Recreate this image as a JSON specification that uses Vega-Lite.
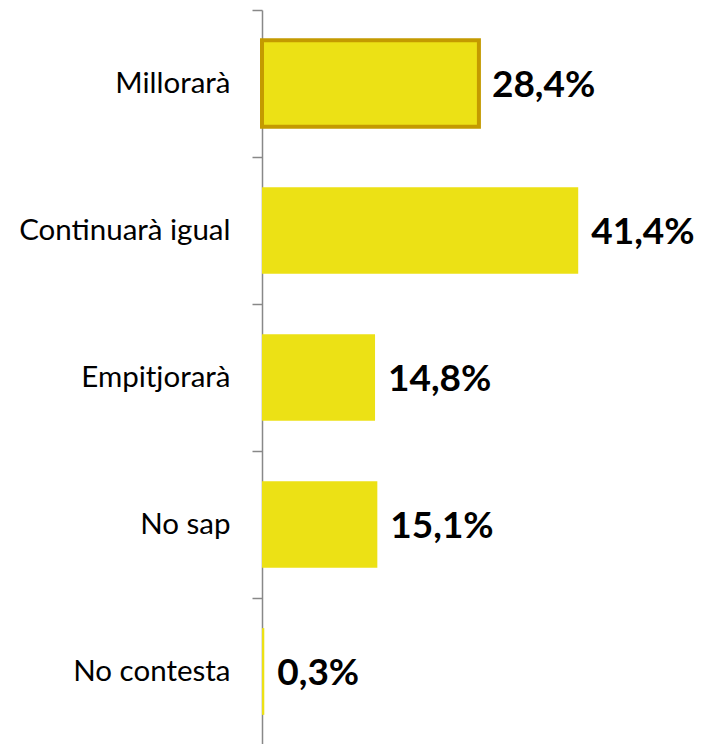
{
  "$schema": "https://vega.github.io/schema/vega-lite/v6.json",
  "width": 443,
  "height": 735,
  "autosize": {"type": "none"},
  "padding": {"left": 262, "top": 10, "right": 0, "bottom": 0},
  "background": "white",
  "config": {
    "view": {"stroke": null},
    "locale": {"number": {"decimal": ",", "thousands": ".", "grouping": [3], "currency": ["", " €"]}}
  },
  "data": {
    "values": [
      {"cat": "Millorarà", "v": 0.284},
      {"cat": "Continuarà igual", "v": 0.414},
      {"cat": "Empitjorarà", "v": 0.148},
      {"cat": "No sap", "v": 0.151},
      {"cat": "No contesta", "v": 0.003}
    ]
  },
  "encoding": {
    "y": {
      "field": "cat", "type": "nominal", "sort": null,
      "scale": {"paddingInner": 0.41, "paddingOuter": 0.205},
      "axis": {
        "title": null, "domainColor": "#888888", "domainWidth": 1.5,
        "tickColor": "#888888", "tickSize": 10, "tickWidth": 1.5,
        "tickOffset": -73.5, "labelOffset": 73.5,
        "labelFont": "Lato", "labelFontSize": 29.5, "labelColor": "#000000",
        "labelPadding": 22, "labelLimit": 300
      }
    },
    "x": {
      "field": "v", "type": "quantitative",
      "scale": {"domain": [0, 0.58]},
      "axis": null
    }
  },
  "layer": [
    {
      "mark": {"type": "bar", "color": "#ECE115", "stroke": "#C49A00"},
      "encoding": {
        "strokeWidth": {"condition": {"test": "datum.cat === 'Millorarà'", "value": 4}, "value": 0}
      }
    },
    {
      "mark": {"type": "text", "align": "left", "baseline": "middle", "dx": 13, "dy": 2, "font": "Lato", "fontSize": 37, "fontWeight": "bold", "color": "#000000"},
      "encoding": {
        "text": {"field": "v", "type": "quantitative", "format": ".1%"}
      }
    }
  ]
}
